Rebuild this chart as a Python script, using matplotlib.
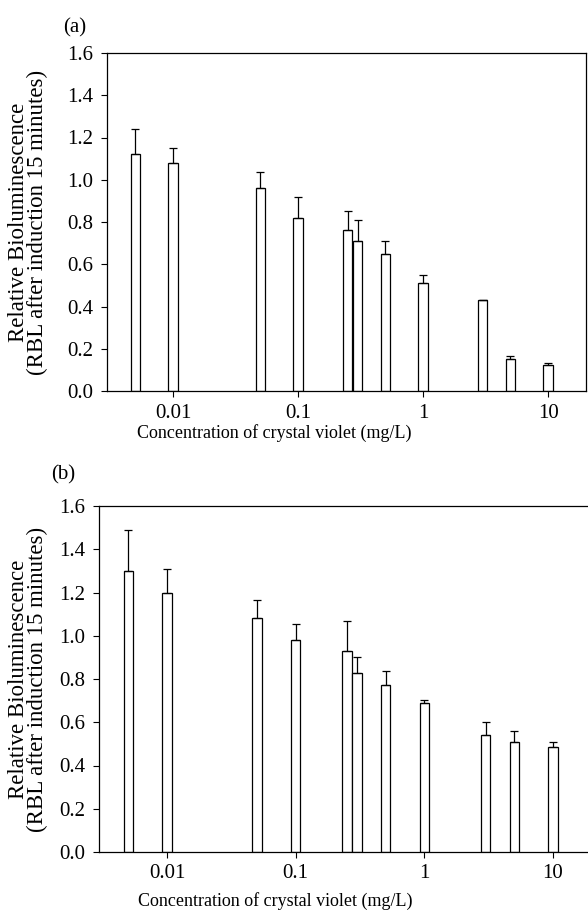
import matplotlib
matplotlib.use("Agg")
import matplotlib.pyplot as plt
import numpy as np

plt.rcParams['font.family'] = ['Liberation Serif', 'DejaVu Serif']

# concentrations of crystal violet (mg/L)
conc = [0.005, 0.01, 0.05, 0.1, 0.25, 0.3, 0.5, 1, 3, 5, 10]

# panel (a): mean and upper error-bar end
rbl_a = [1.12, 1.08, 0.96, 0.82, 0.76, 0.71, 0.65, 0.51, 0.43, 0.15, 0.125]
top_a = [1.24, 1.15, 1.035, 0.92, 0.85, 0.81, 0.71, 0.55, 0.433, 0.165, 0.133]

# panel (b)
rbl_b = [1.30, 1.20, 1.08, 0.98, 0.93, 0.83, 0.77, 0.69, 0.54, 0.51, 0.485]
top_b = [1.49, 1.31, 1.165, 1.055, 1.07, 0.90, 0.835, 0.703, 0.60, 0.56, 0.51]

xticks = [0.01, 0.1, 1, 10]
xticklabels = ['0.01', '0.1', '1', '10']
yticks = [0.0, 0.2, 0.4, 0.6, 0.8, 1.0, 1.2, 1.4, 1.6]

W, H = 588, 910


def draw_panel(ax, vals, tops, xlab_x, xlab_y):
    x = np.array(conc)
    half = 0.037  # half bar width in decades
    left = x * 10 ** (-half)
    widths = x * 10 ** half - left
    ax.bar(left, vals, width=widths, align='edge', color='white',
           edgecolor='black', linewidth=0.9, zorder=2)
    err = np.array(tops) - np.array(vals)
    ax.errorbar(x, vals, yerr=[np.zeros_like(err), err], fmt='none',
                ecolor='black', elinewidth=0.9, capsize=3, capthick=0.9, zorder=3)
    ax.set_xscale('log')
    ax.set_xlim(0.00296, 20.1)
    ax.set_ylim(0, 1.6)
    ax.set_xticks(xticks)
    ax.set_xticklabels(xticklabels)
    ax.minorticks_off()
    ax.set_yticks(yticks)
    ax.set_yticklabels(['%.1f' % v for v in yticks])
    ax.tick_params(direction='out', length=4, width=0.8, labelsize=15)
    ax.tick_params(axis='x', pad=5)
    ax.tick_params(axis='y', pad=6)
    for s in ax.spines.values():
        s.set_linewidth(0.9)
    ax.set_xlabel('Concentration of crystal violet (mg/L)', fontsize=13, labelpad=0)
    ax.xaxis.set_label_coords(xlab_x, xlab_y)


fig = plt.figure(figsize=(W / 100, H / 100), dpi=100)
ax_a = fig.add_axes([107 / W, 1 - 391 / H, 479 / W, 338 / H])
ax_b = fig.add_axes([99 / W, 1 - 852 / H, 493 / W, 346 / H])

draw_panel(ax_a, rbl_a, top_a, (274 - 107) / 479, -0.097)
draw_panel(ax_b, rbl_b, top_b, (275 - 99) / 493, -0.116)

ylab = 'Relative Bioluminescence\n(RBL after induction 15 minutes)'
fig.text(28 / W, 1 - 222 / H, ylab, rotation=90, ha='center', va='center',
         fontsize=16.5, linespacing=0.82)
fig.text(28 / W, 1 - 679 / H, ylab, rotation=90, ha='center', va='center',
         fontsize=16.5, linespacing=0.82)

fig.text(75 / W, 1 - 28 / H, '(a)', ha='center', va='center', fontsize=15)
fig.text(63 / W, 1 - 475 / H, '(b)', ha='center', va='center', fontsize=15)

fig.savefig('out.png', dpi=100)
